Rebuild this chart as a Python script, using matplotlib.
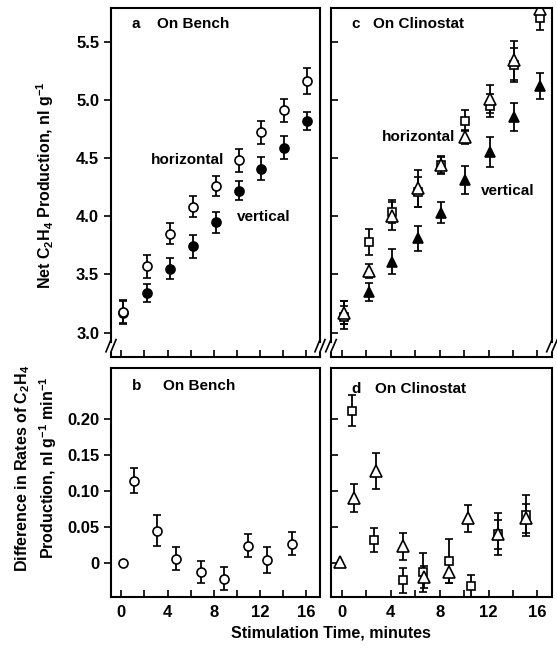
import matplotlib
matplotlib.use("Agg")
import matplotlib.pyplot as plt

plt.rcParams['font.family'] = ['Liberation Sans', 'DejaVu Sans']
plt.rcParams['font.weight'] = 'bold'
plt.rcParams['mathtext.default'] = 'regular'

# --- Panel a: on bench, net production ---
t_a = [0.15, 2.2, 4.2, 6.2, 8.2, 10.2, 12.1, 14.1, 16.1]
a_horiz = [3.18, 3.57, 3.85, 4.08, 4.26, 4.48, 4.72, 4.91, 5.16]
a_horiz_err = [0.1, 0.1, 0.09, 0.09, 0.09, 0.1, 0.1, 0.1, 0.11]
a_vert = [3.17, 3.34, 3.55, 3.74, 3.95, 4.22, 4.41, 4.59, 4.82]
a_vert_err = [0.1, 0.08, 0.09, 0.1, 0.09, 0.08, 0.1, 0.1, 0.08]

# --- Panel c: on clinostat, net production ---
t_c = [0.15, 2.2, 4.1, 6.2, 8.1, 10.05, 12.1, 14.1, 16.2]
c_sq = [3.13, 3.78, 4.04, 4.21, 4.44, 4.82, 4.95, 5.30, 5.70]
c_sq_err = [0.1, 0.11, 0.1, 0.13, 0.07, 0.09, 0.1, 0.15, 0.1]
c_tri = [3.17, 3.53, 4.0, 4.24, 4.44, 4.68, 5.01, 5.34, 5.78]
c_tri_err = [0.1, 0.06, 0.12, 0.16, 0.08, 0.06, 0.12, 0.17, 0.1]
c_vert = [3.17, 3.35, 3.61, 3.81, 4.03, 4.31, 4.55, 4.85, 5.12]
c_vert_err = [0.1, 0.08, 0.11, 0.11, 0.09, 0.12, 0.13, 0.12, 0.11]

# --- Panel b: on bench, difference in rates ---
t_b = [1.05, 3.1, 4.7, 6.9, 8.9, 11.0, 12.6, 14.8]
b_diff = [0.114, 0.045, 0.006, -0.012, -0.022, 0.024, 0.004, 0.027]
b_err = [0.017, 0.021, 0.016, 0.015, 0.016, 0.016, 0.018, 0.016]

# --- Panel d: on clinostat, difference in rates ---
t_d_tri = [1.0, 2.78, 4.97, 6.68, 8.8, 10.3, 12.75, 15.1]
d_tri = [0.09, 0.127, 0.023, -0.019, -0.013, 0.062, 0.04, 0.062]
d_tri_err = [0.02, 0.025, 0.019, 0.015, 0.015, 0.019, 0.02, 0.02]
t_d_sq = [0.79, 2.64, 4.97, 6.63, 8.77, 10.55, 12.8, 15.1]
d_sq = [0.211, 0.032, -0.024, -0.013, 0.003, -0.032, 0.04, 0.066]
d_sq_err = [0.021, 0.017, 0.017, 0.027, 0.03, 0.016, 0.029, 0.028]

fig = plt.figure(figsize=(5.57, 6.49), dpi=100)
W, H = 557, 649


def box(l, t, r, b):
    return [l / W, 1 - b / H, (r - l) / W, (b - t) / H]


ax_a = fig.add_axes(box(111, 8, 320, 357))
ax_c = fig.add_axes(box(331, 8, 552, 357))
ax_b = fig.add_axes(box(111, 368, 320, 597))
ax_d = fig.add_axes(box(331, 368, 552, 597))

eb = dict(ls='none', ecolor='black', elinewidth=1.3, capsize=2.8, capthick=1.3,
          markeredgecolor='black', markeredgewidth=1.2)

# panel a
ax_a.errorbar(t_a, a_vert, yerr=a_vert_err, fmt='o', ms=6.5, mfc='black', **eb)
ax_a.errorbar(t_a, a_horiz, yerr=a_horiz_err, fmt='o', ms=6.5, mfc='white', **eb)
# panel c
ax_c.errorbar(t_c, c_vert, yerr=c_vert_err, fmt='^', ms=7, mfc='black', **eb)
ax_c.errorbar(t_c, c_sq, yerr=c_sq_err, fmt='s', ms=6, mfc='white', **eb)
ax_c.errorbar(t_c, c_tri, yerr=c_tri_err, fmt='^', ms=8.5, mfc='white', **eb)
# panel b
ax_b.plot([0.1], [0.0], 'o', ms=6.5, mfc='white', mec='black', mew=1.2)
ax_b.errorbar(t_b, b_diff, yerr=b_err, fmt='o', ms=6.5, mfc='white', **eb)
# panel d
ax_d.plot([-0.15], [0.002], '^', ms=8.5, mfc='white', mec='black', mew=1.2)
ax_d.errorbar(t_d_sq, d_sq, yerr=d_sq_err, fmt='s', ms=6, mfc='white', **eb)
ax_d.errorbar(t_d_tri, d_tri, yerr=d_tri_err, fmt='^', ms=8.5, mfc='white', **eb)

xticks = list(range(0, 17, 2))
for ax in (ax_a, ax_c):
    ax.set_xlim(-0.9, 17.2)
    ax.set_ylim(2.79, 5.79)
    ax.set_yticks([3.0, 3.5, 4.0, 4.5, 5.0, 5.5])
    ax.set_xticks(xticks)
    ax.tick_params(axis='x', direction='in', length=5, width=1.2, labelbottom=False)
for ax in (ax_b, ax_d):
    ax.set_xlim(-0.9, 17.2)
    ax.set_ylim(-0.047, 0.27)
    ax.set_yticks([0, 0.05, 0.10, 0.15, 0.20])
    ax.set_xticks(xticks)
    ax.set_xticklabels(['0', '', '4', '', '8', '', '12', '', '16'], fontsize=12)
    ax.tick_params(axis='x', direction='in', length=5, width=1.2, pad=6)

ax_a.set_yticklabels(['3.0', '3.5', '4.0', '4.5', '5.0', '5.5'], fontsize=12)
ax_a.tick_params(axis='y', direction='out', length=5, width=1.2)
ax_b.set_yticklabels(['0', '0.05', '0.10', '0.15', '0.20'], fontsize=12)
ax_b.tick_params(axis='y', direction='out', length=5, width=1.2)
for ax in (ax_c, ax_d):
    ax.tick_params(axis='y', direction='in', length=5, width=1.2, labelleft=False)

for ax in (ax_a, ax_b, ax_c, ax_d):
    for sp in ax.spines.values():
        sp.set_linewidth(1.5)

# broken axis marks on the upper panels
for ax in (ax_a, ax_c):
    ax.spines['left'].set_bounds(2.92, 5.79)
    ax.spines['right'].set_bounds(2.92, 5.79)
    for x0 in (0.0, 1.0):
        ax.plot([x0, x0], [0, 0.012], color='black', lw=1.5, transform=ax.transAxes, clip_on=False)
        for dx in (-0.012, 0.012):
            ax.plot([x0 + dx - 0.012, x0 + dx + 0.012], [0.015, 0.05], color='black', lw=1.2,
                    transform=ax.transAxes, clip_on=False)

# panel annotations
ax_a.text(0.10, 0.955, 'a', transform=ax_a.transAxes, fontsize=11, va='center')
ax_a.text(0.22, 0.955, 'On Bench', transform=ax_a.transAxes, fontsize=11, va='center')
ax_a.text(8.95, 4.48, 'horizontal', fontsize=11, ha='right', va='center')
ax_a.text(10.0, 3.99, 'vertical', fontsize=11, ha='left', va='center')

ax_c.text(0.09, 0.955, 'c', transform=ax_c.transAxes, fontsize=11, va='center')
ax_c.text(0.19, 0.955, 'On Clinostat', transform=ax_c.transAxes, fontsize=11, va='center')
ax_c.text(9.3, 4.68, 'horizontal', fontsize=11, ha='right', va='center')
ax_c.text(11.4, 4.22, 'vertical', fontsize=11, ha='left', va='center')

ax_b.text(0.10, 0.92, 'b', transform=ax_b.transAxes, fontsize=11, va='center')
ax_b.text(0.25, 0.92, 'On Bench', transform=ax_b.transAxes, fontsize=11, va='center')
ax_d.text(0.09, 0.91, 'd', transform=ax_d.transAxes, fontsize=11, va='center')
ax_d.text(0.20, 0.91, 'On Clinostat', transform=ax_d.transAxes, fontsize=11, va='center')

fig.text(45 / W, 1 - 185 / H, 'Net C$_2$H$_4$ Production, nl g$^{-1}$', rotation=90,
         ha='center', va='center', fontsize=11.5)
fig.text(36 / W, 1 - 468 / H, 'Difference in Rates of C$_2$H$_4$\nProduction, nl g$^{-1}$ min$^{-1}$',
         rotation=90, ha='center', va='center', fontsize=11.5, linespacing=1.3)
fig.text(331 / W, 1 - 633 / H, 'Stimulation Time, minutes', ha='center', va='center', fontsize=11.5)

fig.savefig('out.png', dpi=100)
